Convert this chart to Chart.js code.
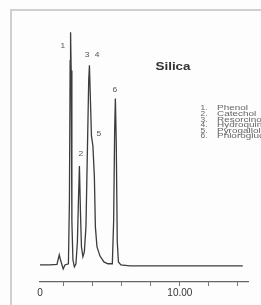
<!DOCTYPE html>
<html>
<head>
<meta charset="utf-8">
<script src="https://cdn.jsdelivr.net/npm/chart.js@4.4.0/dist/chart.umd.min.js"></script>
<style>
  html, body { margin: 0; padding: 0; background: #fff; }
  #wrap { position: relative; width: 261px; height: 305px; overflow: hidden; background: #fdfdfd; }
  #frame { position: absolute; left: 10px; top: 9px; right: -6px; bottom: -6px;
           border-left: 2px solid #cfcfcf; border-top: 2px solid #cfcfcf; }
  #c { position: absolute; left: 0; top: 0; }
</style>
</head>
<body>
<div id="wrap">
  <div id="frame"></div>
  <canvas id="c" width="261" height="305"></canvas>
</div>
<script>
// ---- data ----
// retention time (min)
const times = [0.35, 1.03, 1.52, 1.68, 1.76, 1.95, 2.07, 2.31, 2.38, 2.43, 2.46, 2.50, 2.55, 2.62, 2.72,
  2.83, 2.93, 3.00, 3.07, 3.14, 3.21, 3.31, 3.41, 3.52, 3.62, 3.71, 3.76, 3.81, 3.90, 4.00, 4.10,
  4.17, 4.28, 4.48, 4.76, 5.03, 5.34, 5.43, 5.50, 5.55, 5.61, 5.68, 5.76, 5.93, 6.55, 14.34];
// detector signal (relative, tallest peak = 100)
const signal = [0.4, 0.4, 0.6, 4.7, 2.6, -1.3, 0.4, 0.9, 27.6, 87.9, 100, 83.6, 19, 2.6, -0.4,
  0.9, 10.3, 27.6, 42.7, 23.3, 8.2, 3.9, 6, 16.8, 49.1, 79.3, 85.8, 75, 55.6, 51.3, 38.4,
  16.8, 8.2, 4.3, 1.7, 0.9, 0.9, 19, 57.8, 71.6, 53.4, 10.3, 1.7, 0.4, 0, 0];
// x-axis ticks (min)
const tickValues = [2, 4, 6, 8, 10, 12, 14];
const startLabel = '0';
const labelledTick = 10;
const labelledTickText = '10.00';
// peak numbers and compounds
const peakNumbers = ['1', '2', '3', '4', '5', '6'];
const compounds = ['Phenol', 'Catechol', 'Resorcinol', 'Hydroquinone', 'Pyrogallol', 'Phloroglucinol'];
const chartTitle = 'Silica';

// ---- layout / style config ----
const X_MIN = 0.35, X_MAX = 14.7, Y_MIN = -6.9, Y_MAX = 105.2;
const peakLabelAnchors = [[1.93, 94], [3.17, 47.8], [3.59, 90], [4.28, 90], [4.41, 56.5], [5.52, 75.4]];
const FONT = '"Liberation Sans", Arial, sans-serif';

function wideText(ctx, text, x, y, sx) {
  ctx.save();
  ctx.translate(x, y);
  ctx.scale(sx, 1);
  ctx.fillText(text, 0, 0);
  ctx.restore();
}

const textPlugin = {
  id: 'chromText',
  afterDatasetsDraw(chart) {
    const ctx = chart.ctx, xs = chart.scales.x, ys = chart.scales.y, ca = chart.chartArea;
    ctx.save();
    ctx.textAlign = 'center';
    ctx.textBaseline = 'middle';
    ctx.fillStyle = '#555';
    ctx.font = '7px ' + FONT;
    peakNumbers.forEach((p, i) => {
      const a = peakLabelAnchors[i];
      wideText(ctx, p, xs.getPixelForValue(a[0]), ys.getPixelForValue(a[1]), 1.2);
    });
    // title
    ctx.fillStyle = '#333';
    ctx.font = 'bold 11px ' + FONT;
    wideText(ctx, chartTitle, ca.left + 133, ca.top + 47, 1.22);
    // compound key
    ctx.font = '7px ' + FONT;
    ctx.fillStyle = '#666';
    compounds.forEach((c, i) => {
      const y = ca.top + 88.5 + i * 5.6;
      ctx.textAlign = 'center';
      wideText(ctx, peakNumbers[i] + '.', ca.left + 164, y, 1.2);
      ctx.textAlign = 'left';
      wideText(ctx, c, ca.left + 177, y, 1.42);
    });
    ctx.restore();
  }
};

new Chart(document.getElementById('c'), {
  type: 'line',
  data: {
    datasets: [{
      data: times.map((t, i) => ({ x: t, y: signal[i] })),
      borderColor: '#3c3c3c',
      borderWidth: 1.3,
      pointRadius: 0,
      tension: 0,
      fill: false
    }]
  },
  options: {
    responsive: false,
    devicePixelRatio: 1,
    animation: false,
    layout: { padding: { left: 40, right: 13, top: 20, bottom: 5 } },
    plugins: { legend: { display: false }, tooltip: { enabled: false }, title: { display: false } },
    scales: {
      x: {
        type: 'linear',
        min: X_MIN,
        max: X_MAX,
        afterBuildTicks(scale) {
          scale.ticks = [{ value: X_MIN }].concat(tickValues.map(v => ({ value: v })));
        },
        ticks: {
          autoSkip: false,
          maxRotation: 0,
          padding: 1,
          color: '#333',
          font: { family: FONT, size: 10 },
          callback(v) {
            if (v === X_MIN) return startLabel;
            if (v === labelledTick) return labelledTickText;
            return '';
          }
        },
        grid: {
          drawOnChartArea: false,
          drawTicks: true,
          tickLength: 4,
          color: ctx => (ctx.tick && ctx.tick.value === X_MIN) ? 'rgba(0,0,0,0)' : '#777'
        },
        border: { display: true, color: '#666', width: 1.2 }
      },
      y: {
        display: false,
        min: Y_MIN,
        max: Y_MAX
      }
    }
  },
  plugins: [textPlugin]
});
</script>
</body>
</html>
